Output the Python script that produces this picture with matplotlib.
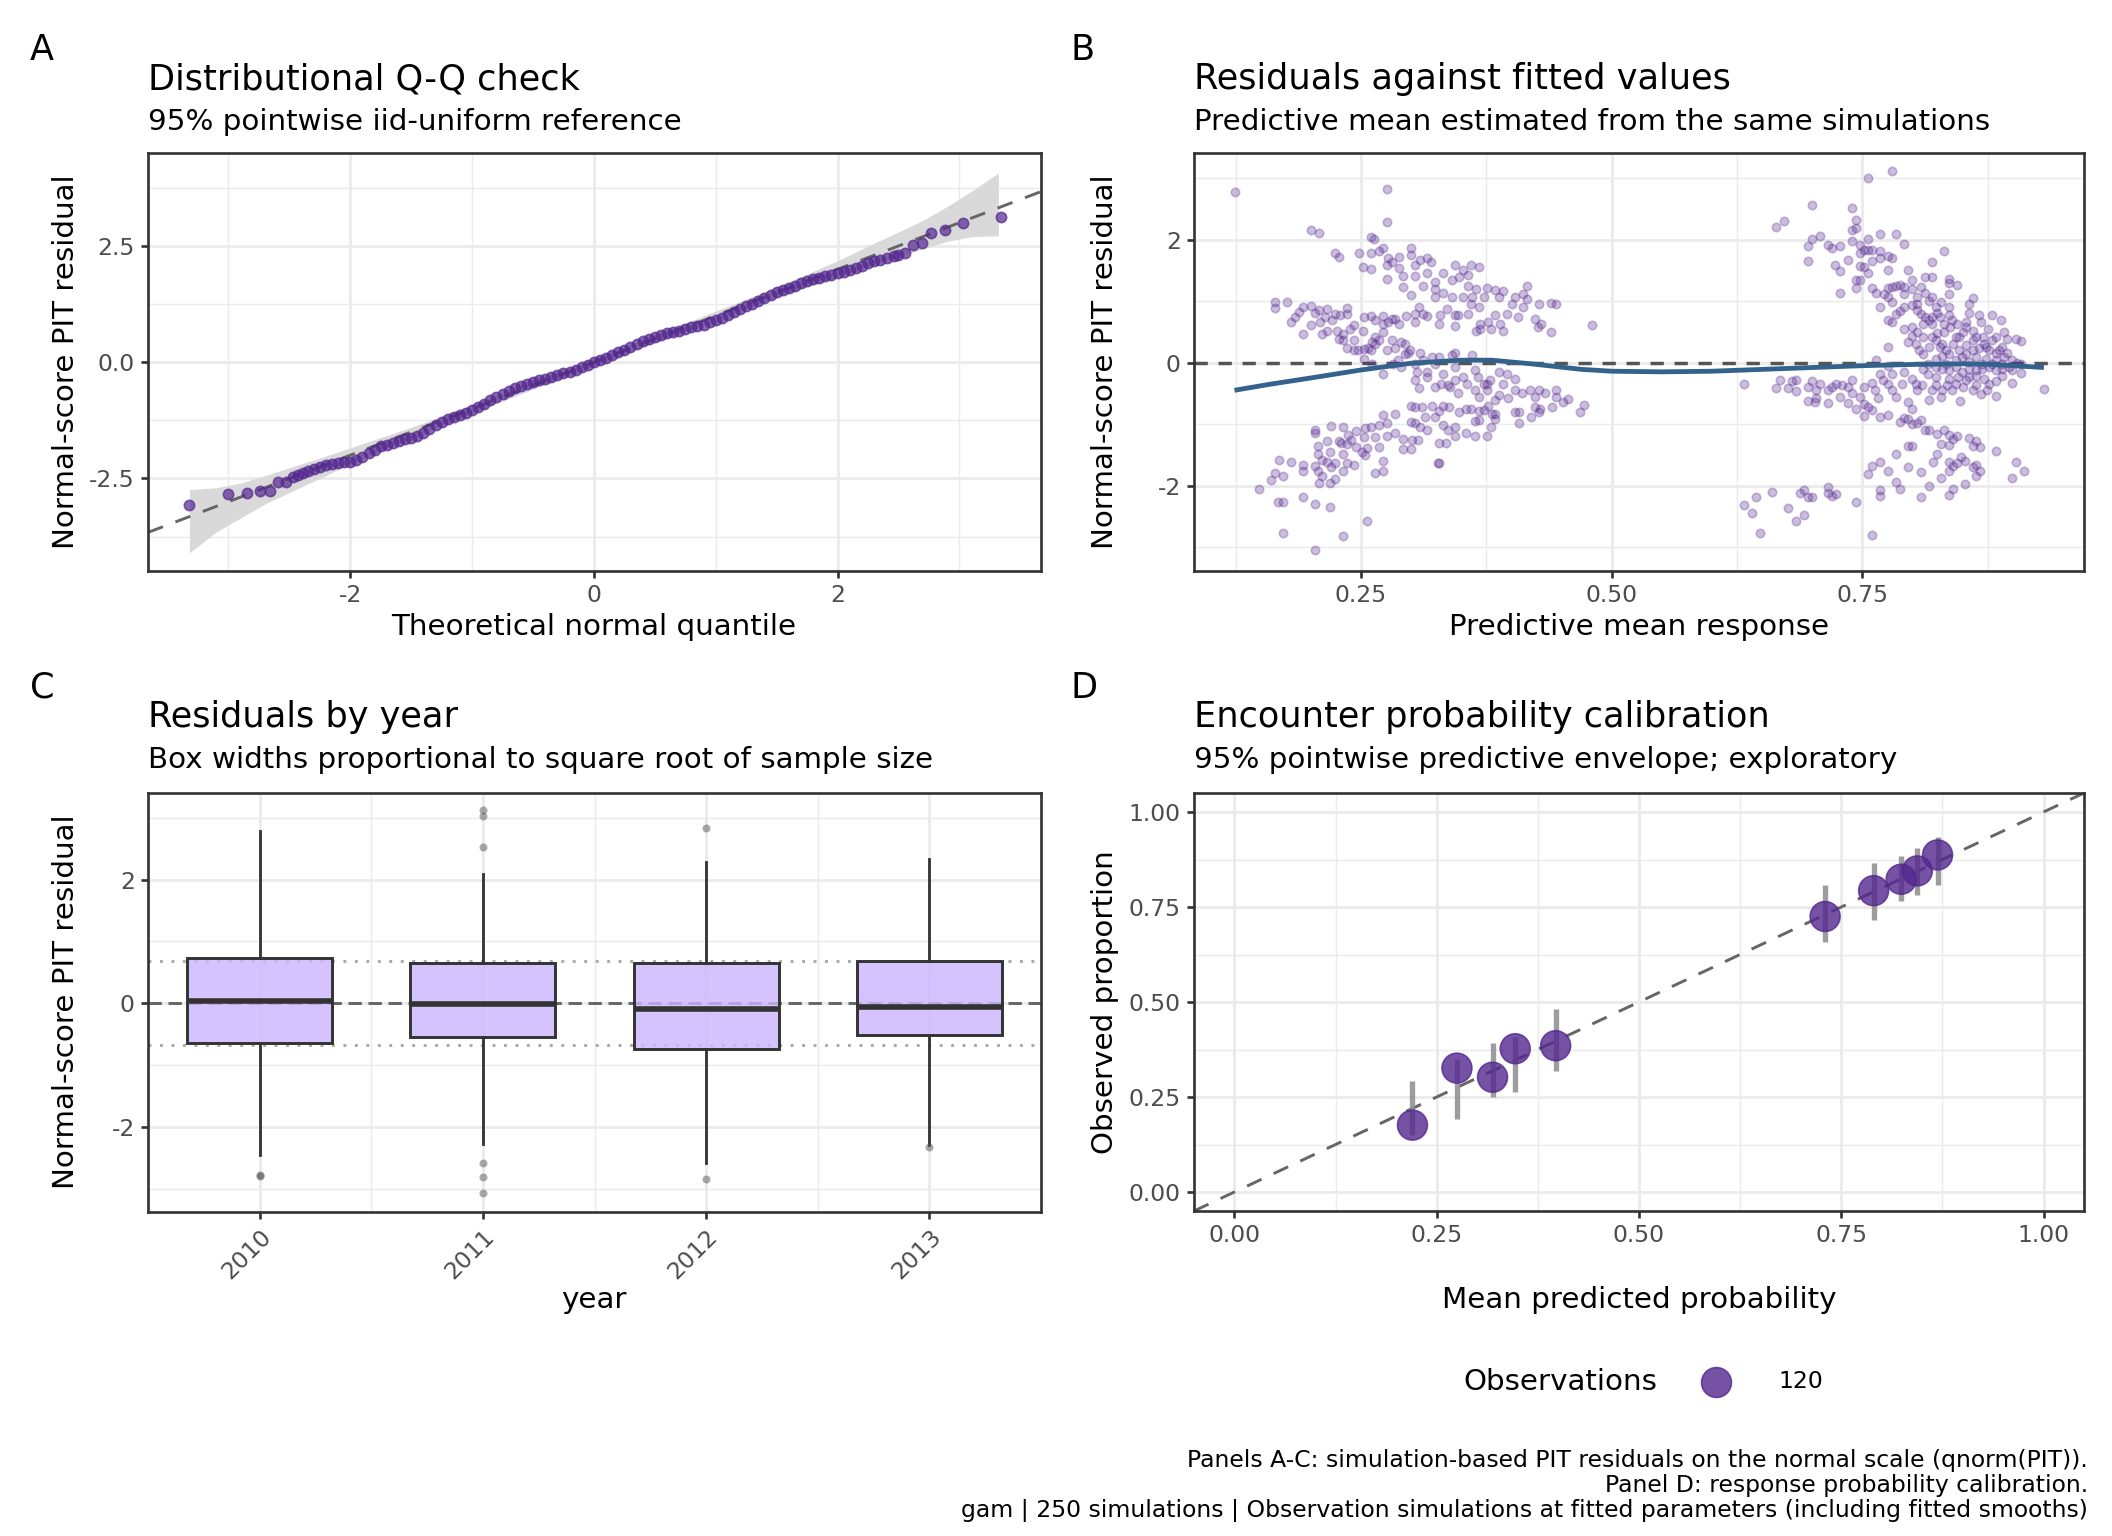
import matplotlib
matplotlib.use("Agg")
import matplotlib.pyplot as plt
from matplotlib.lines import Line2D

plt.rcParams['font.family'] = ['DejaVu Sans']
plt.rcParams['axes.unicode_minus'] = False
plt.rcParams['lines.scale_dashes'] = False

# ---------------- data ----------------
# Panel A: Q-Q points (theoretical quantile, sorted residual)
qq_x = [-3.32, -3.00, -2.85, -2.74, -2.66, -2.59, -2.53, -2.47, -2.43, -2.39, -2.35,
        -2.30, -2.25, -2.20, -2.15, -2.10, -2.05, -2.00, -1.95, -1.90, -1.85, -1.80,
        -1.75, -1.70, -1.65, -1.60, -1.55, -1.50, -1.45, -1.40, -1.35, -1.30, -1.25,
        -1.20, -1.15, -1.10, -1.05, -1.00, -0.95, -0.90, -0.85, -0.80, -0.75, -0.70,
        -0.65, -0.60, -0.55, -0.50, -0.45, -0.40, -0.35, -0.30, -0.25, -0.20, -0.15,
        -0.10, -0.05, 0.00, 0.05, 0.10, 0.15, 0.20, 0.25, 0.30, 0.35, 0.40, 0.45,
        0.50, 0.55, 0.60, 0.65, 0.70, 0.75, 0.80, 0.85, 0.90, 0.95, 1.00, 1.05,
        1.10, 1.15, 1.20, 1.25, 1.30, 1.35, 1.40, 1.45, 1.50, 1.55, 1.60, 1.65,
        1.70, 1.75, 1.80, 1.85, 1.90, 1.95, 2.00, 2.05, 2.10, 2.15, 2.20, 2.25,
        2.30, 2.35, 2.41, 2.46, 2.50, 2.55, 2.62, 2.69, 2.77, 2.88, 3.03, 3.34]
qq_y = [-3.06, -2.83, -2.81, -2.76, -2.78, -2.57, -2.58, -2.46, -2.42, -2.39, -2.33,
        -2.29, -2.25, -2.21, -2.19, -2.17, -2.15, -2.14, -2.10, -2.03, -1.96, -1.88,
        -1.81, -1.77, -1.73, -1.70, -1.66, -1.62, -1.58, -1.53, -1.44, -1.36, -1.28,
        -1.23, -1.18, -1.13, -1.09, -1.03, -0.96, -0.89, -0.82, -0.75, -0.69, -0.62,
        -0.56, -0.51, -0.47, -0.43, -0.39, -0.35, -0.31, -0.27, -0.24, -0.20, -0.16,
        -0.11, -0.05, 0.00, 0.05, 0.10, 0.16, 0.21, 0.27, 0.33, 0.40, 0.46, 0.51,
        0.54, 0.58, 0.62, 0.65, 0.68, 0.71, 0.75, 0.78, 0.81, 0.86, 0.90, 0.96,
        1.01, 1.08, 1.14, 1.20, 1.26, 1.32, 1.38, 1.44, 1.50, 1.55, 1.60, 1.65,
        1.70, 1.75, 1.79, 1.82, 1.85, 1.88, 1.91, 1.94, 1.98, 2.02, 2.07, 2.13,
        2.18, 2.20, 2.24, 2.28, 2.30, 2.34, 2.53, 2.57, 2.78, 2.84, 3.00, 3.12]
band_x = [-3.32, -3.1, -2.9, -2.7, -2.5, -2.25, -2.0, -1.5, -1.0, -0.5, 0.0,
          0.5, 1.0, 1.5, 2.0, 2.25, 2.5, 2.7, 2.9, 3.1, 3.32]
band_lo = [-4.10, -3.65, -3.35, -3.05, -2.80, -2.50, -2.18, -1.62, -1.10, -0.58, -0.08,
           0.42, 0.91, 1.40, 1.84, 2.06, 2.27, 2.44, 2.60, 2.70, 2.72]
band_hi = [-2.74, -2.70, -2.60, -2.44, -2.27, -2.06, -1.84, -1.40, -0.91, -0.42, 0.08,
           0.58, 1.10, 1.62, 2.18, 2.50, 2.80, 3.05, 3.35, 3.68, 4.07]

# Panel B: residuals against predictive mean (low-probability group)
fit_lo = [0.124, 0.276, 0.276, 0.200, 0.208, 0.260, 0.263, 0.272, 0.268, 0.224, 0.228, 0.248,
          0.260, 0.300, 0.300, 0.277, 0.281, 0.276, 0.288, 0.309, 0.316, 0.320, 0.304, 0.252,
          0.260, 0.276, 0.288, 0.292, 0.292, 0.304, 0.316, 0.332, 0.344, 0.352, 0.360, 0.368,
          0.348, 0.357, 0.341, 0.312, 0.324, 0.324, 0.332, 0.324, 0.300, 0.357, 0.365, 0.376,
          0.384, 0.392, 0.416, 0.404, 0.412, 0.416, 0.341, 0.352, 0.361, 0.373, 0.388, 0.401,
          0.412, 0.428, 0.440, 0.445, 0.480, 0.360, 0.368,
          0.164, 0.164, 0.176, 0.180, 0.184, 0.188, 0.192, 0.200, 0.204, 0.208, 0.216, 0.192,
          0.200, 0.209, 0.214, 0.221, 0.224, 0.229, 0.236, 0.236, 0.211, 0.216, 0.226, 0.232,
          0.239, 0.243, 0.228, 0.232, 0.236, 0.243, 0.243, 0.252, 0.253, 0.260, 0.264, 0.253,
          0.253, 0.257, 0.261, 0.264, 0.264, 0.268, 0.272, 0.272, 0.272, 0.277, 0.281, 0.284,
          0.288, 0.276, 0.281, 0.284, 0.290, 0.294, 0.297, 0.295, 0.304, 0.304, 0.308, 0.312,
          0.316, 0.328, 0.329, 0.336, 0.344, 0.344, 0.347, 0.357, 0.369, 0.369, 0.377, 0.384,
          0.389, 0.392, 0.396, 0.407, 0.424, 0.427, 0.430, 0.440, 0.380, 0.365,
          0.282, 0.287, 0.290, 0.294, 0.299, 0.304, 0.309, 0.312, 0.306, 0.304, 0.308, 0.316,
          0.316, 0.321, 0.324, 0.328, 0.324, 0.330, 0.332, 0.341, 0.344, 0.344, 0.344, 0.339,
          0.337, 0.347, 0.352, 0.356, 0.361, 0.364, 0.367, 0.364, 0.368, 0.373, 0.376, 0.379,
          0.376, 0.388, 0.392, 0.396, 0.404, 0.404, 0.411, 0.419, 0.424, 0.428, 0.434, 0.445,
          0.445, 0.452, 0.457, 0.468, 0.472, 0.428, 0.424, 0.420, 0.408, 0.408, 0.397, 0.388,
          0.384, 0.381, 0.384, 0.404, 0.441, 0.429, 0.272, 0.261, 0.260, 0.247,
          0.300, 0.304, 0.311, 0.321, 0.328, 0.332, 0.338, 0.348, 0.355, 0.360, 0.368, 0.368,
          0.373, 0.377, 0.384, 0.380, 0.376, 0.364, 0.364, 0.355, 0.344, 0.344, 0.337, 0.332,
          0.328, 0.328, 0.335, 0.324, 0.314, 0.316, 0.309, 0.304, 0.300, 0.307, 0.301, 0.300,
          0.292, 0.284, 0.284, 0.276, 0.272, 0.276, 0.268, 0.264, 0.268, 0.260, 0.254, 0.253,
          0.256, 0.254, 0.251, 0.245, 0.245, 0.240, 0.237, 0.236, 0.230, 0.228, 0.232, 0.220,
          0.216, 0.219, 0.224, 0.232, 0.236, 0.243, 0.232, 0.220, 0.216, 0.211, 0.207, 0.204,
          0.204, 0.207, 0.204, 0.207, 0.208, 0.219, 0.224, 0.211, 0.192, 0.192, 0.180, 0.168,
          0.164, 0.172, 0.160, 0.148, 0.167, 0.172, 0.192, 0.204, 0.219, 0.256, 0.272, 0.272,
          0.264, 0.172, 0.232, 0.204, 0.327, 0.292]
res_lo = [2.77, 2.83, 2.28, 2.16, 2.11, 2.04, 2.01, 1.86, 1.82, 1.78, 1.72, 1.78,
          1.78, 1.86, 1.75, 1.71, 1.63, 1.58, 1.72, 1.67, 1.70, 1.63, 1.59, 1.55,
          1.52, 1.36, 1.54, 1.41, 1.23, 1.41, 1.46, 1.46, 1.58, 1.51, 1.58, 1.56,
          1.40, 1.42, 1.35, 1.25, 1.31, 1.19, 1.13, 1.06, 1.10, 1.25, 1.20, 1.21,
          1.18, 1.16, 1.25, 1.06, 1.11, 1.03, 1.06, 1.06, 1.06, 1.06, 1.06, 0.96,
          0.90, 0.95, 0.97, 0.96, 0.61, 0.95, 0.90,
          0.98, 0.89, 0.98, 0.66, 0.74, 0.83, 0.90, 0.92, 0.81, 0.86, 0.87, 0.46,
          0.62, 0.66, 0.74, 0.69, 0.79, 0.77, 0.89, 0.79, 0.46, 0.52, 0.52, 0.47,
          0.55, 0.61, 0.39, 0.36, 0.23, 0.36, 0.20, 0.51, 0.74, 0.76, 0.69, 0.22,
          0.06, 0.24, 0.34, 0.31, 0.42, 0.37, 0.76, 0.63, 0.50, 0.66, 0.71, 0.71,
          0.63, 0.21, 0.36, 0.23, 0.34, 0.30, 0.15, 0.76, 0.79, 0.66, 0.90, 0.79,
          0.76, 0.63, 0.78, 0.88, 0.59, 0.77, 0.78, 0.79, 0.55, 0.63, 0.66, 0.77,
          0.63, 0.52, 0.79, 0.74, 0.71, 0.58, 0.63, 0.50, 0.55, 0.52,
          -0.02, 0.04, -0.07, 0.14, 0.20, -0.02, 0.15, 0.04, -0.15, -0.29, -0.41, -0.15,
          -0.23, 0.09, -0.02, 0.09, -0.39, -0.34, -0.18, 0.12, 0.15, -0.07, -0.29, -0.39,
          -0.37, -0.50, -0.23, -0.34, 0.12, -0.12, -0.23, -0.45, -0.56, -0.34, -0.34, -0.29,
          -0.45, -0.15, -0.34, -0.18, -0.26, -0.45, -0.50, -0.45, -0.56, -0.45, -0.50, -0.45,
          -0.56, -0.64, -0.60, -0.81, -0.69, -0.80, -0.72, -0.88, -0.80, -0.99, -0.58, -0.53,
          -0.61, -0.83, -0.91, -0.80, -0.72, -0.75, -0.18, -0.03, 0.20, 0.21,
          -0.71, -0.73, -0.73, -0.71, -0.78, -0.71, -0.73, -0.80, -0.75, -0.76, -0.79, -0.94,
          -0.77, -0.71, -0.83, -1.05, -1.19, -1.19, -0.95, -1.15, -1.19, -1.04, -1.09, -1.02,
          -1.31, -1.64, -1.30, -0.88, -0.88, -1.10, -1.04, -0.99, -0.96, -1.26, -1.26, -1.41,
          -1.41, -1.15, -0.83, -0.99, -0.86, -1.19, -1.02, -1.21, -1.37, -1.05, -1.07, -1.21,
          -1.39, -1.50, -1.45, -1.37, -1.12, -1.26, -1.18, -1.32, -1.31, -1.28, -1.04, -1.03,
          -1.28, -1.46, -1.63, -1.48, -1.64, -1.66, -1.76, -1.70, -1.61, -1.58, -1.35, -1.10,
          -1.15, -1.48, -1.68, -1.77, -1.96, -1.96, -1.89, -1.84, -1.66, -1.76, -1.61, -1.58,
          -1.80, -1.84, -1.91, -2.05, -2.26, -2.27, -2.18, -2.30, -2.35, -2.57, -1.60, -1.77,
          -1.80, -2.77, -2.82, -3.05, -1.64, -1.25]

# Panel B: high-probability group
fit_hi = [0.780, 0.756, 0.700, 0.740, 0.744, 0.664, 0.672, 0.740, 0.744, 0.768, 0.784, 0.696,
          0.700, 0.708, 0.716, 0.720, 0.728, 0.740, 0.748, 0.756, 0.752, 0.756, 0.760, 0.768,
          0.748, 0.776, 0.780, 0.792, 0.768, 0.760, 0.696, 0.723, 0.736, 0.728, 0.748, 0.752,
          0.756, 0.776, 0.796, 0.831, 0.819, 0.744, 0.748, 0.744, 0.728, 0.760, 0.764, 0.772,
          0.776, 0.780, 0.784, 0.788, 0.792, 0.800, 0.792, 0.800, 0.808, 0.812, 0.819, 0.836,
          0.836, 0.844, 0.836, 0.819, 0.812, 0.804, 0.776, 0.780, 0.768, 0.788, 0.784, 0.792,
          0.800, 0.804, 0.808, 0.816, 0.824, 0.828, 0.836, 0.819, 0.827, 0.836, 0.856, 0.860,
          0.856, 0.776, 0.780, 0.792, 0.800, 0.804, 0.810, 0.816, 0.824, 0.831, 0.837, 0.844,
          0.850, 0.853, 0.860, 0.866, 0.868, 0.875, 0.879, 0.888, 0.891, 0.883, 0.894, 0.903,
          0.908, 0.796, 0.800, 0.803, 0.776, 0.810, 0.816, 0.823, 0.827, 0.833, 0.840, 0.843,
          0.846, 0.853, 0.860, 0.866, 0.871, 0.876, 0.883, 0.889, 0.894, 0.899, 0.904, 0.908,
          0.823, 0.829, 0.836, 0.853, 0.863, 0.873, 0.883, 0.823, 0.829, 0.836, 0.843, 0.849,
          0.856, 0.863, 0.869, 0.876, 0.883, 0.889, 0.896, 0.908, 0.931, 0.815, 0.823, 0.836,
          0.845, 0.856, 0.863, 0.871, 0.883, 0.899, 0.843, 0.834, 0.850, 0.863, 0.868, 0.874,
          0.883, 0.847, 0.839, 0.829,
          0.632, 0.664, 0.668, 0.676, 0.680, 0.684, 0.684, 0.696, 0.700, 0.696, 0.704, 0.703,
          0.704, 0.708, 0.716, 0.716, 0.720, 0.724, 0.728, 0.730, 0.736, 0.736, 0.740, 0.740,
          0.744, 0.748, 0.752, 0.752, 0.752, 0.756, 0.760, 0.760, 0.763, 0.766, 0.768, 0.771,
          0.768, 0.776, 0.776, 0.780, 0.780, 0.784, 0.790, 0.792, 0.796, 0.800, 0.800, 0.804,
          0.809, 0.816, 0.819, 0.828, 0.764, 0.776,
          0.788, 0.792, 0.796, 0.800, 0.804, 0.808, 0.812, 0.816, 0.824, 0.831, 0.836, 0.840,
          0.844, 0.828, 0.836, 0.856, 0.863, 0.860, 0.867, 0.883, 0.824, 0.820, 0.836, 0.840,
          0.844, 0.848, 0.852, 0.860, 0.863, 0.867, 0.863, 0.836, 0.828, 0.816, 0.852, 0.840,
          0.836, 0.808, 0.788, 0.784, 0.784, 0.796, 0.800, 0.796, 0.808, 0.776, 0.768, 0.760,
          0.756, 0.768, 0.768, 0.744, 0.760, 0.903, 0.911, 0.899, 0.632, 0.640, 0.644, 0.648,
          0.660, 0.676, 0.684, 0.688, 0.692, 0.692, 0.696, 0.700, 0.716, 0.716, 0.720, 0.724,
          0.804, 0.812, 0.819, 0.823, 0.831, 0.839, 0.846, 0.853, 0.860, 0.863, 0.870, 0.873,
          0.879, 0.886, 0.891, 0.843, 0.849, 0.856, 0.869, 0.879, 0.889, 0.833, 0.829, 0.819,
          0.810, 0.806, 0.815, 0.810, 0.803, 0.823, 0.853, 0.860, 0.876, 0.889, 0.899]
res_hi = [3.11, 3.01, 2.57, 2.52, 2.32, 2.20, 2.30, 2.15, 2.19, 2.10, 2.10, 1.90,
          2.01, 2.06, 1.92, 1.86, 1.89, 1.98, 1.92, 2.01, 1.83, 1.84, 1.84, 1.82,
          1.78, 1.74, 1.71, 1.93, 1.71, 1.66, 1.66, 1.59, 1.67, 1.49, 1.57, 1.55,
          1.45, 1.51, 1.51, 1.82, 1.63, 1.35, 1.34, 1.21, 1.13, 1.22, 1.13, 1.11,
          1.22, 1.23, 1.25, 1.26, 1.23, 1.34, 1.11, 1.20, 1.23, 1.39, 1.39, 1.36,
          1.29, 1.26, 1.12, 1.06, 1.13, 1.06, 1.06, 0.98, 0.90, 0.84, 0.79, 0.91,
          0.93, 0.96, 0.79, 1.01, 0.81, 0.98, 0.90, 0.74, 0.74, 0.77, 0.81, 1.05,
          0.96, 0.69, 0.66, 0.55, 0.58, 0.50, 0.63, 0.69, 0.48, 0.63, 0.58, 0.63,
          0.50, 0.66, 0.52, 0.77, 0.66, 0.54, 0.77, 0.70, 0.50, 0.42, 0.39, 0.39,
          0.35, 0.34, 0.44, 0.31, 0.25, 0.14, 0.25, 0.36, 0.25, 0.20, 0.31, 0.42,
          0.20, 0.28, 0.36, 0.23, 0.31, 0.20, 0.15, 0.25, 0.15, 0.04, 0.00, -0.02,
          0.06, 0.10, 0.14, 0.14, 0.09, 0.06, 0.04, -0.07, -0.10, -0.12, -0.07, -0.15,
          -0.10, -0.12, -0.10, -0.07, -0.12, -0.10, -0.07, -0.17, -0.43, -0.19, -0.23, -0.26,
          -0.23, -0.23, -0.21, -0.26, -0.30, -0.33, -0.34, -0.37, -0.39, -0.37, -0.51, -0.44,
          -0.55, -0.62, -0.45, -0.44,
          -0.34, -0.41, -0.29, -0.41, -0.30, -0.29, -0.46, -0.39, -0.30, -0.62, -0.57, -0.64,
          -0.44, -0.34, -0.45, -0.65, -0.39, -0.34, -0.56, -0.37, -0.39, -0.66, -0.28, -0.49,
          -0.75, -0.56, -0.39, -0.68, -0.87, -0.72, -0.33, -0.77, -0.45, -0.58, -0.88, -0.29,
          -0.18, -0.34, -0.85, -0.18, -0.45, -0.56, -0.34, -0.15, -0.64, -0.26, -0.75, -0.45,
          -0.37, -0.61, -0.45, -0.56, 0.05, -0.06,
          -0.96, -0.90, -0.91, -1.00, -0.99, -0.94, -1.09, -1.10, -1.16, -1.09, -1.18, -1.25,
          -1.19, -1.32, -1.34, -1.22, -1.27, -1.36, -1.38, -1.43, -1.49, -1.61, -1.61, -1.68,
          -1.64, -1.53, -1.60, -1.69, -1.66, -1.76, -1.85, -1.76, -1.88, -2.01, -1.98, -2.06,
          -2.16, -2.19, -2.06, -1.95, -1.49, -1.36, -1.36, -1.69, -1.78, -1.76, -1.61, -1.68,
          -1.81, -2.08, -2.17, -2.27, -2.81, -1.61, -1.77, -1.88, -2.31, -2.44, -2.18, -2.77,
          -2.11, -2.37, -2.57, -2.12, -2.07, -2.48, -2.19, -2.18, -2.03, -2.12, -2.17, -2.14,
          0.85, 0.74, 0.63, 0.90, 0.50, 0.69, 0.42, 0.58, 0.20, 0.42, 0.42, 0.25,
          0.36, 0.20, 0.09, 0.04, 0.09, 0.01, -0.02, -0.02, -0.02, -0.02, 0.31, 0.42,
          0.42, 0.20, -0.02, -0.10, -0.34, -0.37, -0.29, -0.45, -0.34, -0.21, -0.12]

# Panel B: smooth of residuals
smooth_x = [0.124, 0.16, 0.20, 0.25, 0.30, 0.35, 0.38, 0.42, 0.47, 0.50, 0.55, 0.60,
            0.65, 0.70, 0.75, 0.80, 0.85, 0.88, 0.90, 0.931]
smooth_y = [-0.45, -0.35, -0.25, -0.12, -0.01, 0.04, 0.04, -0.02, -0.11, -0.14, -0.15, -0.14,
            -0.11, -0.08, -0.05, -0.03, -0.02, -0.03, -0.05, -0.08]

# Panel C: residuals by year (box statistics)
years = ['2010', '2011', '2012', '2013']
box_q1 = [-0.65, -0.55, -0.74, -0.51]
box_med = [0.04, -0.01, -0.09, -0.06]
box_q3 = [0.73, 0.65, 0.65, 0.68]
box_lo = [-2.45, -2.28, -2.58, -2.29]
box_hi = [2.78, 2.09, 2.29, 2.33]
box_out = [[-2.78, -2.79], [3.13, 3.03, 2.53, -2.58, -2.82, -3.07], [2.84, -2.84], [-2.33]]
box_width = [0.65, 0.65, 0.65, 0.65]
iqr_ref = 0.674

# Panel D: calibration bins
cal_pred = [0.220, 0.275, 0.319, 0.347, 0.397, 0.730, 0.790, 0.824, 0.844, 0.869]
cal_obs = [0.176, 0.326, 0.302, 0.377, 0.385, 0.725, 0.793, 0.823, 0.845, 0.887]
cal_lo = [0.150, 0.191, 0.250, 0.262, 0.318, 0.658, 0.717, 0.765, 0.782, 0.808]
cal_hi = [0.291, 0.350, 0.391, 0.408, 0.482, 0.808, 0.866, 0.883, 0.906, 0.933]
cal_n = [120] * 10

# ---------------- layout helpers ----------------
W, H = 2112, 1536
fig = plt.figure(figsize=(11, 8), dpi=192)


def add_ax(l, t, r, b):
    return fig.add_axes([l / W, 1 - b / H, (r - l) / W, (b - t) / H])


def ftext(x, y, s, **kw):
    return fig.text(x / W, 1 - y / H, s, **kw)


GRID = '#ebebeb'
DARK = '#333333'
PURPLE = '#54278f'


def style(ax, xmaj, xmin, ymaj, ymin, xlabels, ylabels):
    ax.set_xticks(xmaj)
    ax.set_xticks(xmin, minor=True)
    ax.set_yticks(ymaj)
    ax.set_yticks(ymin, minor=True)
    ax.set_xticklabels(xlabels)
    ax.set_yticklabels(ylabels)
    ax.grid(which='major', color=GRID, lw=1.07)
    ax.grid(which='minor', color=GRID, lw=0.55)
    ax.tick_params(which='minor', length=0)
    ax.tick_params(which='major', length=2.75, width=1.0, color=DARK,
                   labelsize=8.8, labelcolor='#4d4d4d', pad=2.2)
    for s in ax.spines.values():
        s.set_color(DARK)
        s.set_linewidth(1.0)
    ax.set_axisbelow(True)


def headers(x_ax, tag_x, y_tag, tag, title, subtitle):
    ftext(tag_x, y_tag, tag, fontsize=13.2, va='baseline', ha='left')
    ftext(x_ax, y_tag + 29, title, fontsize=13.2, va='baseline', ha='left')
    ftext(x_ax, y_tag + 70, subtitle, fontsize=11, va='baseline', ha='left')


# ---------------- Panel A ----------------
axA = add_ax(148, 153, 1041, 571)
axA.fill_between(band_x, band_lo, band_hi, color='#d9d9d9', lw=0, zorder=1)
axA.axline((0, 0), slope=1, color='#666666', lw=1.1, dashes=(6, 5), zorder=2)
axA.scatter(qq_x, qq_y, s=15, color=PURPLE, alpha=0.7, edgecolors=PURPLE,
            linewidths=0.6, zorder=3)
axA.set_xlim(-3.66, 3.67)
axA.set_ylim(-4.49, 4.50)
style(axA, [-2, 0, 2], [-3, -1, 1, 3], [-2.5, 0, 2.5], [-3.75, -1.25, 1.25, 3.75],
      ['-2', '0', '2'], ['-2.5', '0.0', '2.5'])
headers(148, 30, 60, 'A', 'Distributional Q-Q check', '95% pointwise iid-uniform reference')
ftext(594, 627, 'Theoretical normal quantile', fontsize=11, ha='center', va='center')
ftext(66, 362, 'Normal-score PIT residual', fontsize=11, ha='center', va='center', rotation=90)

# ---------------- Panel B ----------------
axB = add_ax(1194, 153, 2084, 571)
axB.axhline(0, color='#555555', lw=1.3, dashes=(5, 4), zorder=2)
axB.scatter(fit_lo + fit_hi, res_lo + res_hi, s=10, color=PURPLE, alpha=0.3,
            edgecolors=PURPLE, linewidths=0.6, zorder=3)
axB.plot(smooth_x, smooth_y, color='#33628c', lw=1.8, zorder=4, solid_capstyle='butt')
axB.set_xlim(0.0836, 0.971)
axB.set_ylim(-3.39, 3.41)
style(axB, [0.25, 0.5, 0.75], [0.125, 0.375, 0.625, 0.875], [-2, 0, 2], [-3, -1, 1, 3],
      ['0.25', '0.50', '0.75'], ['-2', '0', '2'])
headers(1194, 1070, 60, 'B', 'Residuals against fitted values',
        'Predictive mean estimated from the same simulations')
ftext(1639, 627, 'Predictive mean response', fontsize=11, ha='center', va='center')
ftext(1105, 362, 'Normal-score PIT residual', fontsize=11, ha='center', va='center', rotation=90)

# ---------------- Panel C ----------------
axC = add_ax(148, 793, 1041, 1212)
pos = list(range(1, len(years) + 1))
stats = []
for i in range(len(years)):
    stats.append(dict(med=box_med[i], q1=box_q1[i], q3=box_q3[i],
                      whislo=box_lo[i], whishi=box_hi[i], fliers=[]))
axC.axhline(0, color='#666666', lw=1.1, dashes=(5, 2.5), zorder=1.5)
for v in (-iqr_ref, iqr_ref):
    axC.axhline(v, color='#aaaaaa', lw=1.1, dashes=(1.1, 3.2), zorder=1.5)
axC.bxp(stats, positions=pos, widths=box_width, patch_artist=True, showcaps=False,
        boxprops=dict(facecolor=(0.796, 0.71, 1.0, 0.8), edgecolor=DARK, lw=1.1),
        medianprops=dict(color=DARK, lw=2.1, solid_capstyle='butt'),
        whiskerprops=dict(color=DARK, lw=1.05), manage_ticks=False, zorder=2)
for p, outs in zip(pos, box_out):
    axC.scatter([p] * len(outs), outs, s=9, color='#555555', alpha=0.5, lw=0, zorder=3)
axC.set_xlim(0.5, 4.5)
axC.set_ylim(-3.38, 3.40)
style(axC, pos, [1.5, 2.5, 3.5], [-2, 0, 2], [-3, -1, 1, 3], years, ['-2', '0', '2'])
for lab in axC.get_xticklabels():
    lab.set_rotation(45)
    lab.set_ha('right')
    lab.set_va('top')
    lab.set_rotation_mode('anchor')
headers(148, 30, 698, 'C', 'Residuals by year', 'Box widths proportional to square root of sample size')
ftext(594, 1300, 'year', fontsize=11, ha='center', va='center')
ftext(66, 1002, 'Normal-score PIT residual', fontsize=11, ha='center', va='center', rotation=90)

# ---------------- Panel D ----------------
axD = add_ax(1194, 793, 2084, 1211)
axD.axline((0, 0), slope=1, color='#666666', lw=1.1, dashes=(6, 5), zorder=2)
axD.vlines(cal_pred, cal_lo, cal_hi, color='#8c8c8c', alpha=0.85, lw=2.0, zorder=3)
axD.scatter(cal_pred, cal_obs, s=[n * 1.05 for n in cal_n], color=PURPLE, alpha=0.8,
            edgecolors=PURPLE, linewidths=0.6, zorder=4)
axD.set_xlim(-0.05, 1.05)
axD.set_ylim(-0.05, 1.05)
ticksD = [0, 0.25, 0.5, 0.75, 1.0]
labD = ['0.00', '0.25', '0.50', '0.75', '1.00']
style(axD, ticksD, [0.125, 0.375, 0.625, 0.875], ticksD, [0.125, 0.375, 0.625, 0.875], labD, labD)
headers(1194, 1070, 698, 'D', 'Encounter probability calibration',
        '95% pointwise predictive envelope; exploratory')
ftext(1639, 1300, 'Mean predicted probability', fontsize=11, ha='center', va='center')
ftext(1105, 1002, 'Observed proportion', fontsize=11, ha='center', va='center', rotation=90)

# legend for bin size
ftext(1463, 1382, 'Observations', fontsize=11, ha='left', va='center')
fig.add_artist(Line2D([1716 / W], [1 - 1382 / H], transform=fig.transFigure, marker='o',
                      ms=(cal_n[0] * 1.05) ** 0.5, color=PURPLE, alpha=0.8, mec=PURPLE,
                      mew=0.6, ls='none'))
ftext(1778, 1382, str(cal_n[0]), fontsize=8.8, ha='left', va='center')

# caption
cap = ['Panels A-C: simulation-based PIT residuals on the normal scale (qnorm(PIT)).',
       'Panel D: response probability calibration.',
       'gam | 250 simulations | Observation simulations at fitted parameters (including fitted smooths)']
for i, line in enumerate(cap):
    ftext(2088, 1467 + 25 * i, line, fontsize=8.8, ha='right', va='baseline')

fig.savefig('out.png', dpi=192, facecolor='white')
